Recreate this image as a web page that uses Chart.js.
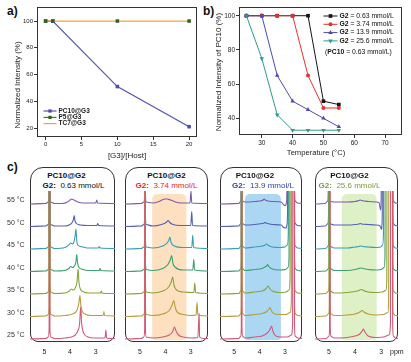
<!DOCTYPE html>
<html><head><meta charset="utf-8">
<script src="https://cdn.jsdelivr.net/npm/chart.js@4/dist/chart.umd.min.js"></script>
<style>
html,body{margin:0;padding:0;background:#fff;width:411px;height:362px;overflow:hidden;font-family:"Liberation Sans",Arial,sans-serif}
#wrap{position:relative;width:411px;height:362px;background:#fff}
canvas{position:absolute}
.box{position:absolute;box-sizing:border-box;border:1.4px solid #333;border-radius:13px 13px 8px 8px}
.lbl{position:absolute;font-weight:bold;font-size:12px;line-height:14px;color:#111}
.hdr{position:absolute;text-align:center;font-weight:bold;font-size:8px;line-height:10px;color:#111;white-space:nowrap}
.sub{position:absolute;text-align:center;font-size:8px;line-height:10px;white-space:nowrap}
</style></head><body>
<div id="wrap">
<div class="lbl" style="left:7px;top:4px">a)</div>
<div class="lbl" style="left:203px;top:4px">b)</div>
<div class="lbl" style="left:7px;top:160px">c)</div>
<canvas id="ca" width="205" height="166" style="left:0;top:0"></canvas>
<canvas id="cb" width="211" height="166" style="left:200px;top:0"></canvas>
</div>
<script>
// ---------- data: panel a ----------
const ratioA = [0, 1, 10, 20];
const pc10G3 = [100, 100, 51, 21];
const p5G3 = [100, 100, 100, 100];
const tc7G3 = [100, 100, 100, 100];
const namesA = ['PC10@G3', 'P5@G3', 'TC7@G3'];
const xTicksA = [0, 5, 10, 15, 20];
const yTicksA = [20, 40, 60, 80, 100];
const xTitleA = '[G3]/[Host]';
const yTitleA = 'Normalized Intensity (%)';

// ---------- data: panel b ----------
const tempsB = [25, 30, 35, 40, 45, 50, 55];
const g2c063 = [100, 100, 100, 100, 100, 50, 48];
const g2c374 = [100, 100, 100, 100, 65, 46, 46];
const g2c139 = [100, 100, 65, 50, 45, 40, 35];
const g2c256 = [100, 75, 42, 33, 33, 33, 33];
const concG2 = ['0.63', '3.74', '13.9', '25.6'];
const concPC10 = '0.63';
const xTicksB = [30, 40, 50, 60, 70];
const yTicksB = [40, 60, 80, 100];
const xTitleB = 'Temperature (°C)';
const yTitleB = 'Normalized Intensity of PC10 (%)';

// ---------- data: panel c (ppm, intensity), traces 25..55 °C ----------
const tempsC = [25, 30, 35, 40, 45, 50, 55];
const ppmTicks = [5, 4, 3];
const spec063 = [
 [[5.6,0],[4.95,0.5],[4.85,2],[4.815,10],[4.805,300],[4.795,300],[4.785,10],[4.75,2],[4.6,0.5],[4.2,1],[3.95,2],[3.8,4],[3.7,8],[3.63,15],[3.585,32],[3.55,16],[3.5,8],[3.42,4],[3.3,2],[3.1,1],[2.7,1],[2.63,2],[2.605,9],[2.58,1.5],[2.5,0.5],[2.2,0.5]],
 [[5.6,0],[4.95,0.5],[4.85,2],[4.815,10],[4.805,300],[4.795,300],[4.785,10],[4.75,2],[4.6,0.5],[4.2,1],[3.95,2],[3.8,4],[3.72,7],[3.66,13],[3.615,21],[3.58,11],[3.52,5],[3.42,2.5],[3.2,1],[2.75,1],[2.7,1.5],[2.68,5],[2.66,1],[2.2,0.5]],
 [[5.6,0],[4.95,0.5],[4.85,2],[4.815,10],[4.805,300],[4.795,300],[4.785,10],[4.75,2],[4.6,0.5],[4.2,1],[4.05,2.5],[3.95,5],[3.88,4],[3.8,6],[3.73,12],[3.685,25],[3.655,12],[3.6,5],[3.5,2.5],[3.3,1],[2.82,1],[2.78,3],[2.75,0.8],[2.2,0.5]],
 [[5.6,0],[4.95,0.5],[4.85,2],[4.815,10],[4.805,300],[4.795,300],[4.785,10],[4.75,2],[4.6,0.5],[4.2,1],[4.05,3],[3.97,5],[3.9,4],[3.82,6],[3.77,10],[3.74,17],[3.71,9],[3.65,4],[3.5,2],[3.3,1],[2.87,1],[2.83,3],[2.8,1],[2.2,0.5]],
 [[5.6,0],[4.95,0.5],[4.85,2],[4.815,10],[4.805,300],[4.795,300],[4.785,10],[4.75,2],[4.6,0.5],[4.2,1.5],[4.05,4],[3.97,6],[3.9,5],[3.84,8],[3.8,14],[3.77,20],[3.745,10],[3.7,4],[3.5,2],[3.3,1],[2.9,1],[2.86,2.5],[2.83,1],[2.2,0.5]],
 [[5.6,0],[4.95,0.5],[4.85,2],[4.815,10],[4.805,300],[4.795,300],[4.785,10],[4.75,2],[4.6,0.5],[4.2,0.5],[4.0,2],[3.92,4],[3.87,7],[3.84,11],[3.81,6],[3.75,3],[3.6,1.5],[3.3,1],[2.96,1],[2.92,3],[2.89,1],[2.2,0.5]],
 [[5.6,0],[4.95,0.5],[4.85,2],[4.815,10],[4.805,300],[4.795,300],[4.785,10],[4.75,2],[4.6,0.5],[4.3,0.5],[4.1,2],[4.0,4],[3.93,5],[3.85,4],[3.7,2],[3.5,1],[3.0,1],[2.96,4],[2.93,1],[2.2,0.5]]
];
const spec374 = [
 [[5.6,0],[4.95,0.5],[4.85,2],[4.815,10],[4.805,300],[4.795,300],[4.785,10],[4.75,2],[4.5,1],[4.1,2],[3.85,4],[3.72,7],[3.64,12],[3.58,8],[3.48,4],[3.3,2],[3.0,1],[2.72,1.5],[2.67,26],[2.65,2],[2.5,0.5],[2.2,0.5]],
 [[5.6,0],[4.95,0.5],[4.85,2],[4.815,10],[4.805,300],[4.795,300],[4.785,10],[4.75,2],[4.5,1],[4.1,2.5],[3.85,6],[3.74,11],[3.67,16],[3.61,9],[3.52,4],[3.3,2],[3.0,1],[2.79,1.5],[2.75,14],[2.72,1.5],[2.2,0.5]],
 [[5.6,0],[4.95,0.5],[4.85,2],[4.815,10],[4.805,300],[4.795,300],[4.785,10],[4.75,2],[4.5,1],[4.1,3],[3.87,7],[3.77,12],[3.71,17],[3.66,9],[3.56,4],[3.3,2],[2.88,1.5],[2.84,11],[2.81,1.5],[2.2,0.5]],
 [[5.6,0],[4.95,0.5],[4.85,2],[4.815,10],[4.805,300],[4.795,300],[4.785,10],[4.75,2],[4.5,1],[4.1,3],[3.9,7],[3.8,12],[3.75,16],[3.7,8],[3.6,4],[3.3,1.5],[2.92,1.5],[2.88,12],[2.85,1.5],[2.2,0.5]],
 [[5.6,0],[4.95,0.5],[4.85,2],[4.815,10],[4.805,300],[4.795,300],[4.785,10],[4.75,2],[4.5,1],[4.1,3],[3.93,6],[3.86,9],[3.82,12],[3.78,7],[3.65,3],[3.3,1.5],[2.96,1.5],[2.92,14],[2.89,1.5],[2.2,0.5]],
 [[5.6,0],[4.95,0.5],[4.85,2],[4.815,10],[4.805,300],[4.795,300],[4.785,10],[4.75,2],[4.5,0.5],[4.15,2],[3.97,4],[3.89,6],[3.83,4],[3.7,2],[3.4,1],[3.0,1],[2.96,15],[2.93,1],[2.2,0.5]],
 [[5.6,0],[4.95,0.5],[4.85,2],[4.815,10],[4.805,300],[4.795,300],[4.785,10],[4.75,2],[4.5,1],[4.2,3],[4.02,5],[3.92,5],[3.8,4],[3.6,2],[3.4,1],[3.03,1],[2.99,13],[2.96,1],[2.2,0.5]]
];
const spec139 = [
 [[5.6,0],[4.82,0.5],[4.74,3],[4.72,12],[4.715,300],[4.705,300],[4.695,12],[4.67,3],[4.58,1],[4.2,2],[3.9,3],[3.7,6],[3.6,9],[3.53,13],[3.48,8],[3.4,4],[3.2,2],[2.9,2],[2.75,4],[2.7,15],[2.675,600],[2.64,600],[2.625,15],[2.6,3],[2.5,1],[2.2,0.5]],
 [[5.6,0],[4.82,0.5],[4.74,3],[4.72,12],[4.715,300],[4.705,300],[4.695,12],[4.67,3],[4.58,1],[4.2,2],[3.9,3],[3.72,5],[3.64,7],[3.59,9],[3.54,6],[3.45,3],[3.2,2],[2.95,2],[2.8,4],[2.75,15],[2.73,600],[2.64,600],[2.625,15],[2.6,3],[2.5,1],[2.2,0.5]],
 [[5.6,0],[4.82,0.5],[4.74,3],[4.72,12],[4.715,300],[4.705,300],[4.695,12],[4.67,3],[4.58,1],[4.2,2],[3.9,3],[3.76,5],[3.7,7],[3.66,8],[3.62,6],[3.5,3],[3.2,1.5],[2.95,2],[2.84,4],[2.8,15],[2.78,600],[2.64,600],[2.625,15],[2.6,3],[2.5,1],[2.2,0.5]],
 [[5.6,0],[4.82,0.5],[4.74,3],[4.72,12],[4.715,300],[4.705,300],[4.695,12],[4.67,3],[4.58,1],[4.2,2],[3.9,3],[3.76,5],[3.71,6],[3.68,7],[3.64,5],[3.5,2.5],[3.2,1.5],[2.97,2],[2.88,4],[2.84,15],[2.82,600],[2.64,600],[2.625,15],[2.6,3],[2.5,1],[2.2,0.5]],
 [[5.6,0],[4.82,0.5],[4.74,3],[4.72,12],[4.715,300],[4.705,300],[4.695,12],[4.67,3],[4.58,1],[4.2,2],[3.9,3],[3.78,4],[3.74,5],[3.72,5],[3.68,4],[3.5,2],[3.2,1.5],[3.0,2],[2.91,4],[2.87,15],[2.85,600],[2.64,600],[2.625,15],[2.6,3],[2.5,1],[2.2,0.5]],
 [[5.6,0],[4.82,0.5],[4.74,3],[4.72,12],[4.715,300],[4.705,300],[4.695,12],[4.67,3],[4.58,1.5],[4.2,2],[3.9,3],[3.82,3.5],[3.79,4],[3.75,3.5],[3.5,2],[3.15,1.5],[3.05,-1],[2.95,-1.5],[2.92,2],[2.9,15],[2.88,600],[2.64,600],[2.625,15],[2.6,3],[2.5,1],[2.2,0.5]],
 [[5.6,0],[4.82,0.5],[4.74,3],[4.72,12],[4.715,300],[4.705,300],[4.695,12],[4.67,3],[4.58,2],[4.2,2.5],[3.9,3.5],[3.84,4.5],[3.82,5],[3.78,4],[3.5,2.5],[3.15,2],[3.05,-1],[2.97,-1.5],[2.94,2],[2.925,15],[2.91,600],[2.64,600],[2.625,15],[2.6,3],[2.5,1],[2.2,0.5]]
];
const spec256 = [
 [[5.6,0],[5.1,0.5],[5.0,3],[4.98,12],[4.975,300],[4.965,300],[4.955,12],[4.93,3],[4.8,1],[4.3,1.5],[4.0,3],[3.82,5],[3.73,8],[3.68,10],[3.62,7],[3.5,3],[3.2,1.5],[2.9,2],[2.7,4],[2.64,15],[2.62,600],[2.57,600],[2.555,15],[2.53,3],[2.45,1],[2.2,0.5]],
 [[5.6,0],[5.11,0.5],[5.01,3],[4.99,12],[4.985,300],[4.975,300],[4.965,12],[4.94,3],[4.8,1],[4.3,1.5],[4.0,2.5],[3.85,4],[3.76,5.5],[3.72,6],[3.66,4.5],[3.5,2.5],[3.2,1.5],[2.9,2],[2.74,4],[2.71,15],[2.69,600],[2.57,600],[2.555,15],[2.53,3],[2.45,1],[2.2,0.5]],
 [[5.6,0],[5.12,0.5],[5.02,3],[5.0,12],[4.995,300],[4.985,300],[4.975,12],[4.95,3],[4.8,1],[4.3,1.5],[4.0,2.5],[3.85,3.5],[3.77,4.5],[3.74,4.5],[3.68,3.5],[3.5,2],[3.2,1.5],[2.95,2],[2.81,4],[2.78,15],[2.76,600],[2.57,600],[2.555,15],[2.53,3],[2.45,1],[2.2,0.5]],
 [[5.6,0],[5.12,0.5],[5.02,3],[5.0,12],[4.995,300],[4.985,300],[4.975,12],[4.95,3],[4.8,1],[4.3,1],[4.0,2],[3.85,3],[3.78,3.5],[3.76,3.5],[3.7,3],[3.5,2],[3.2,1.5],[3.0,2],[2.88,4],[2.85,15],[2.83,600],[2.57,600],[2.555,15],[2.53,3],[2.45,1],[2.2,0.5]],
 [[5.6,0],[5.13,0.5],[5.03,3],[5.01,12],[5.005,300],[4.995,300],[4.985,12],[4.96,3],[4.8,1],[4.3,1],[4.0,2],[3.85,2.5],[3.8,3],[3.77,3],[3.7,2.5],[3.5,2],[3.2,1.5],[3.02,2],[2.94,4],[2.91,15],[2.89,600],[2.57,600],[2.555,15],[2.53,3],[2.45,1],[2.2,0.5]],
 [[5.6,0],[5.14,0.5],[5.04,3],[5.02,12],[5.015,300],[5.005,300],[4.995,12],[4.97,3],[4.8,1.5],[4.3,1.5],[4.0,2],[3.85,2.5],[3.8,3],[3.75,2.5],[3.5,2],[3.2,1.5],[3.05,1],[2.98,-3],[2.965,2],[2.955,15],[2.95,600],[2.57,600],[2.555,15],[2.53,3],[2.45,1],[2.2,0.5]],
 [[5.6,0],[5.15,0.5],[5.05,3],[5.03,12],[5.025,300],[5.015,300],[5.005,12],[4.98,3],[4.8,2],[4.3,2],[4.0,2.5],[3.85,3.5],[3.8,4],[3.75,3.5],[3.5,2.5],[3.2,2],[3.08,1.5],[3.02,-6],[3.005,-2],[2.995,15],[2.99,600],[2.57,600],[2.555,15],[2.53,3],[2.45,1],[2.2,0.5]]
];
const bandPpm = [null, [4.52, 3.17], [4.58, 3.16], [4.51, 3.17]];
const headerText = 'PC10@G2';

// ---------- styles ----------
const FONT = '"Liberation Sans", Arial, sans-serif';
Chart.defaults.font.family = FONT;
Chart.defaults.animation = false;
const traceColors = ['#cf5a78', '#b89c3e', '#88a43c', '#3e9f70', '#3b9db2', '#5561b4', '#7c5ba7'];
const subColors = ['#111111', '#e3262b', '#2f3f9f', '#7c9c3c'];
const bandColors = [null, 'rgba(252,214,170,0.75)', 'rgba(150,205,240,0.8)', 'rgba(214,236,184,0.8)'];
const panelBoxes = [{left:30,width:85},{left:125,width:83},{left:220,width:82},{left:315,width:83}];
const panelRange = [[5.56,2.25],[5.59,2.32],[5.56,2.33],[5.54,2.35]];
const hdrShift = [-6, 0, -6, -7];
const subShift = [1, 0, 2, -7];
const TRACE_GAP = 22.5;

function axisCfg(min, max, ticks, size, fs) {
  return {
    type: 'linear', min, max,
    afterBuildTicks: s => { s.ticks = ticks.map(v => ({ value: v })); },
    afterFit: s => { if (s.isHorizontal()) s.height = size; else s.width = size; },
    grid: { drawOnChartArea: false, drawTicks: true, tickLength: 3, color: '#333', lineWidth: 1 },
    border: { display: false },
    ticks: { font: { size: fs }, color: '#222', padding: 1, maxRotation: 0, autoSkip: false }
  };
}
const frame = { id: 'frame', afterDatasetsDraw(chart) {
  const { ctx, chartArea: a } = chart;
  ctx.save(); ctx.strokeStyle = '#333'; ctx.lineWidth = 1;
  ctx.strokeRect(Math.round(a.left) + 0.5, Math.round(a.top) + 0.5, Math.round(a.right - a.left) - 1, Math.round(a.bottom - a.top) - 1);
  ctx.restore();
}};
function drawRotTitle(ctx, text, x, y, fs) {
  ctx.save(); ctx.fillStyle = '#222'; ctx.font = fs + 'px ' + FONT;
  ctx.textAlign = 'center'; ctx.textBaseline = 'middle';
  ctx.translate(x, y); ctx.rotate(-Math.PI / 2); ctx.fillText(text, 0, 0); ctx.restore();
}
function drawTitle(ctx, text, x, y, fs) {
  ctx.save(); ctx.fillStyle = '#222'; ctx.font = fs + 'px ' + FONT;
  ctx.textAlign = 'center'; ctx.textBaseline = 'middle'; ctx.fillText(text, x, y); ctx.restore();
}
function marker(ctx, style, r, rot, x, y, color) {
  ctx.save(); ctx.fillStyle = color; ctx.strokeStyle = color;
  Chart.helpers.drawPoint(ctx, { pointStyle: style, radius: r, rotation: rot || 0, borderWidth: 0 }, x, y);
  ctx.restore();
}

// ---------- chart a ----------
const pts = (xs, ys) => xs.map((x, i) => ({ x, y: ys[i] }));
const legendA = { id: 'legendA', afterDraw(chart) {
  const ctx = chart.ctx; const rows = [111, 117.4, 123.6];
  chart.data.datasets.forEach((ds, i) => {
    const y = rows[i];
    ctx.save(); ctx.strokeStyle = ds.borderColor; ctx.lineWidth = 1.2;
    ctx.beginPath(); ctx.moveTo(43.5, y); ctx.lineTo(56.5, y); ctx.stroke(); ctx.restore();
    if (ds.pointRadius > 0) marker(ctx, ds.pointStyle, 2.3, 0, 50, y, ds.backgroundColor);
    ctx.save(); ctx.fillStyle = '#222'; ctx.font = 'bold 6.5px ' + FONT; ctx.textBaseline = 'middle';
    ctx.fillText(ds.label, 58.5, y); ctx.restore();
  });
  drawTitle(ctx, xTitleA, 127, 156, 8);
  drawRotTitle(ctx, yTitleA, 18, 85, 8);
}};
new Chart(document.getElementById('ca'), {
  type: 'line',
  data: { datasets: [
    { label: namesA[0], data: pts(ratioA, pc10G3), borderColor: '#5353b3', backgroundColor: '#4a4ab0', borderWidth: 1.2, pointStyle: 'rect', pointRadius: 2.5, pointBorderWidth: 0, order: 2 },
    { label: namesA[1], data: pts(ratioA, p5G3), borderColor: '#2a8a2a', backgroundColor: '#35601c', borderWidth: 1.2, showLine: false, pointStyle: 'rect', pointRadius: 2.5, pointBorderWidth: 0, order: 0 },
    { label: namesA[2], data: pts(ratioA, tc7G3), borderColor: '#f2a43a', backgroundColor: '#f2a43a', borderWidth: 1.3, pointRadius: 0, order: 1 }
  ]},
  options: {
    responsive: false, animation: false,
    layout: { padding: { left: 0, top: 7, right: 8, bottom: 0 } },
    plugins: { legend: { display: false }, tooltip: { enabled: false } },
    scales: { x: axisCfg(-1.2, 21.1, xTicksA, 29, 6), y: axisCfg(13.3, 110.5, yTicksA, 37, 6) }
  },
  plugins: [frame, legendA]
});

// ---------- chart b ----------
const legendB = { id: 'legendB', afterDraw(chart) {
  const ctx = chart.ctx; const rows = [16, 24.3, 32.6, 40.9];
  const fs = 6.8;
  chart.data.datasets.forEach((ds, i) => {
    const y = rows[i];
    ctx.save(); ctx.strokeStyle = ds.borderColor; ctx.lineWidth = 1;
    ctx.beginPath(); ctx.moveTo(123.5, y); ctx.lineTo(137.5, y); ctx.stroke(); ctx.restore();
    marker(ctx, ds.pointStyle, ds.pointRadius, ds.pointRotation, 130.5, y, ds.backgroundColor);
    ctx.save(); ctx.fillStyle = '#111'; ctx.textBaseline = 'middle';
    ctx.font = 'bold ' + fs + 'px ' + FONT; ctx.fillText('G2', 139.5, y);
    const w = ctx.measureText('G2').width;
    ctx.font = fs + 'px ' + FONT; ctx.fillText(' = ' + concG2[i] + ' mmol/L', 139.5 + w, y);
    ctx.restore();
  });
  ctx.save(); ctx.fillStyle = '#111'; ctx.textBaseline = 'middle';
  let x = 125; const y = 52.3;
  ctx.font = fs + 'px ' + FONT; ctx.fillText('(', x, y); x += ctx.measureText('(').width;
  ctx.font = 'bold ' + fs + 'px ' + FONT; ctx.fillText('PC10', x, y); x += ctx.measureText('PC10').width;
  ctx.font = fs + 'px ' + FONT; ctx.fillText(' = ' + concPC10 + ' mmol/L)', x, y);
  ctx.restore();
  drawTitle(ctx, xTitleB, 116, 153.3, 7.6);
  drawRotTitle(ctx, yTitleB, 18.3, 72, 8);
}};
new Chart(document.getElementById('cb'), {
  type: 'line',
  data: { datasets: [
    { data: pts(tempsB, g2c063), borderColor: '#151515', backgroundColor: '#151515', borderWidth: 1, pointStyle: 'rect', pointRadius: 2.6, pointBorderWidth: 0, order: 3 },
    { data: pts(tempsB, g2c374), borderColor: '#e8302f', backgroundColor: '#e8302f', borderWidth: 1, pointStyle: 'circle', pointRadius: 2, pointBorderWidth: 0, order: 2 },
    { data: pts(tempsB, g2c139), borderColor: '#4b4bb2', backgroundColor: '#4b4bb2', borderWidth: 1, pointStyle: 'triangle', pointRadius: 2.6, pointBorderWidth: 0, order: 1 },
    { data: pts(tempsB, g2c256), borderColor: '#2d9b8c', backgroundColor: '#2d9b8c', borderWidth: 1, pointStyle: 'triangle', pointRotation: 180, pointRadius: 2.6, pointBorderWidth: 0, order: 0 }
  ]},
  options: {
    responsive: false, animation: false,
    layout: { padding: { left: 0, top: 7, right: 9, bottom: 0 } },
    plugins: { legend: { display: false }, tooltip: { enabled: false } },
    scales: { x: axisCfg(22.6, 75.5, xTicksB, 31, 6.5), y: axisCfg(30.2, 105.1, yTicksB, 39, 6.5) }
  },
  plugins: [frame, legendB]
});

// ---------- panel c ----------
const specs = [spec063, spec374, spec139, spec256];
const wrap = document.getElementById('wrap');
panelBoxes.forEach((b, i) => {
  const box = document.createElement('div'); box.className = 'box';
  Object.assign(box.style, { left: b.left + 'px', top: '167px', width: b.width + 'px', height: '175px' });
  wrap.appendChild(box);
  const h = document.createElement('div'); h.className = 'hdr'; h.textContent = headerText;
  Object.assign(h.style, { left: (b.left + hdrShift[i]) + 'px', width: b.width + 'px', top: '171px' });
  wrap.appendChild(h);
  const s = document.createElement('div'); s.className = 'sub'; s.style.color = subColors[i];
  const sb = document.createElement('b'); sb.textContent = 'G2:';
  s.appendChild(sb); s.appendChild(document.createTextNode('\u00a0 ' + concG2[i] + ' mmol/L'));
  Object.assign(s.style, { left: (b.left + subShift[i]) + 'px', width: b.width + 'px', top: '181px' });
  wrap.appendChild(s);
});
panelBoxes.forEach((b, i) => {
  const cv = document.createElement('canvas');
  const left = i === 0 ? 0 : b.left;
  const padL = i === 0 ? b.left : 0;
  const padR = i === 3 ? 411 - (b.left + b.width) : 0;
  const width = b.left + b.width - left + padR;
  cv.width = width; cv.height = 177;
  cv.style.left = left + 'px'; cv.style.top = '185px';
  wrap.appendChild(cv);
  const datasets = specs[i].map((tr, k) => ({
    label: tempsC[k] + ' °C',
    data: tr.map(p => ({ x: p[0], y: p[1] + k * TRACE_GAP })),
    borderColor: traceColors[k], borderWidth: 1.1, pointRadius: 0,
    cubicInterpolationMode: 'monotone', fill: false
  }));
  const extra = { id: 'extra' + i,
    beforeDatasetsDraw(chart) {
      if (!bandPpm[i]) return;
      const { ctx } = chart; const xs = chart.scales.x, ys = chart.scales.y;
      const x1 = xs.getPixelForValue(bandPpm[i][0]), x2 = xs.getPixelForValue(bandPpm[i][1]);
      const y1 = ys.getPixelForValue(145), y2 = ys.getPixelForValue(-1);
      ctx.save(); ctx.fillStyle = bandColors[i]; ctx.beginPath();
      if (ctx.roundRect) ctx.roundRect(x1, y1, x2 - x1, y2 - y1, [5, 5, 3, 3]); else ctx.rect(x1, y1, x2 - x1, y2 - y1);
      ctx.fill(); ctx.restore();
    },
    afterDraw(chart) {
      const { ctx } = chart; const xs = chart.scales.x, ys = chart.scales.y;
      if (i === 0) {
        ctx.save(); ctx.fillStyle = '#333'; ctx.font = '7px ' + FONT; ctx.textBaseline = 'middle';
        tempsC.forEach((t, k) => ctx.fillText(t + ' °C', 7, ys.getPixelForValue(k * TRACE_GAP + 3.5)));
        ctx.restore();
      }
      if (i === 3) {
        ctx.save(); ctx.fillStyle = '#222'; ctx.font = '7px ' + FONT; ctx.textBaseline = 'middle';
        ctx.fillText('ppm', xs.getPixelForValue(3) + 9, 167);
        ctx.restore();
      }
    }
  };
  new Chart(cv, {
    type: 'line',
    data: { datasets },
    options: {
      responsive: false, animation: false,
      layout: { padding: { left: padL, top: 6, right: padR, bottom: 0 } },
      plugins: { legend: { display: false }, tooltip: { enabled: false } },
      scales: {
        x: { type: 'linear', reverse: true, min: panelRange[i][1], max: panelRange[i][0],
             afterBuildTicks: s => { s.ticks = ppmTicks.map(v => ({ value: v })); },
             afterFit: s => { s.height = 20; },
             grid: { display: false, drawTicks: false }, border: { display: false },
             ticks: { font: { size: 7 }, color: '#222', padding: 6, maxRotation: 0, autoSkip: false } },
        y: { type: 'linear', display: false, min: -3, max: 148 }
      }
    },
    plugins: [extra]
  });
});
</script>
</body></html>
